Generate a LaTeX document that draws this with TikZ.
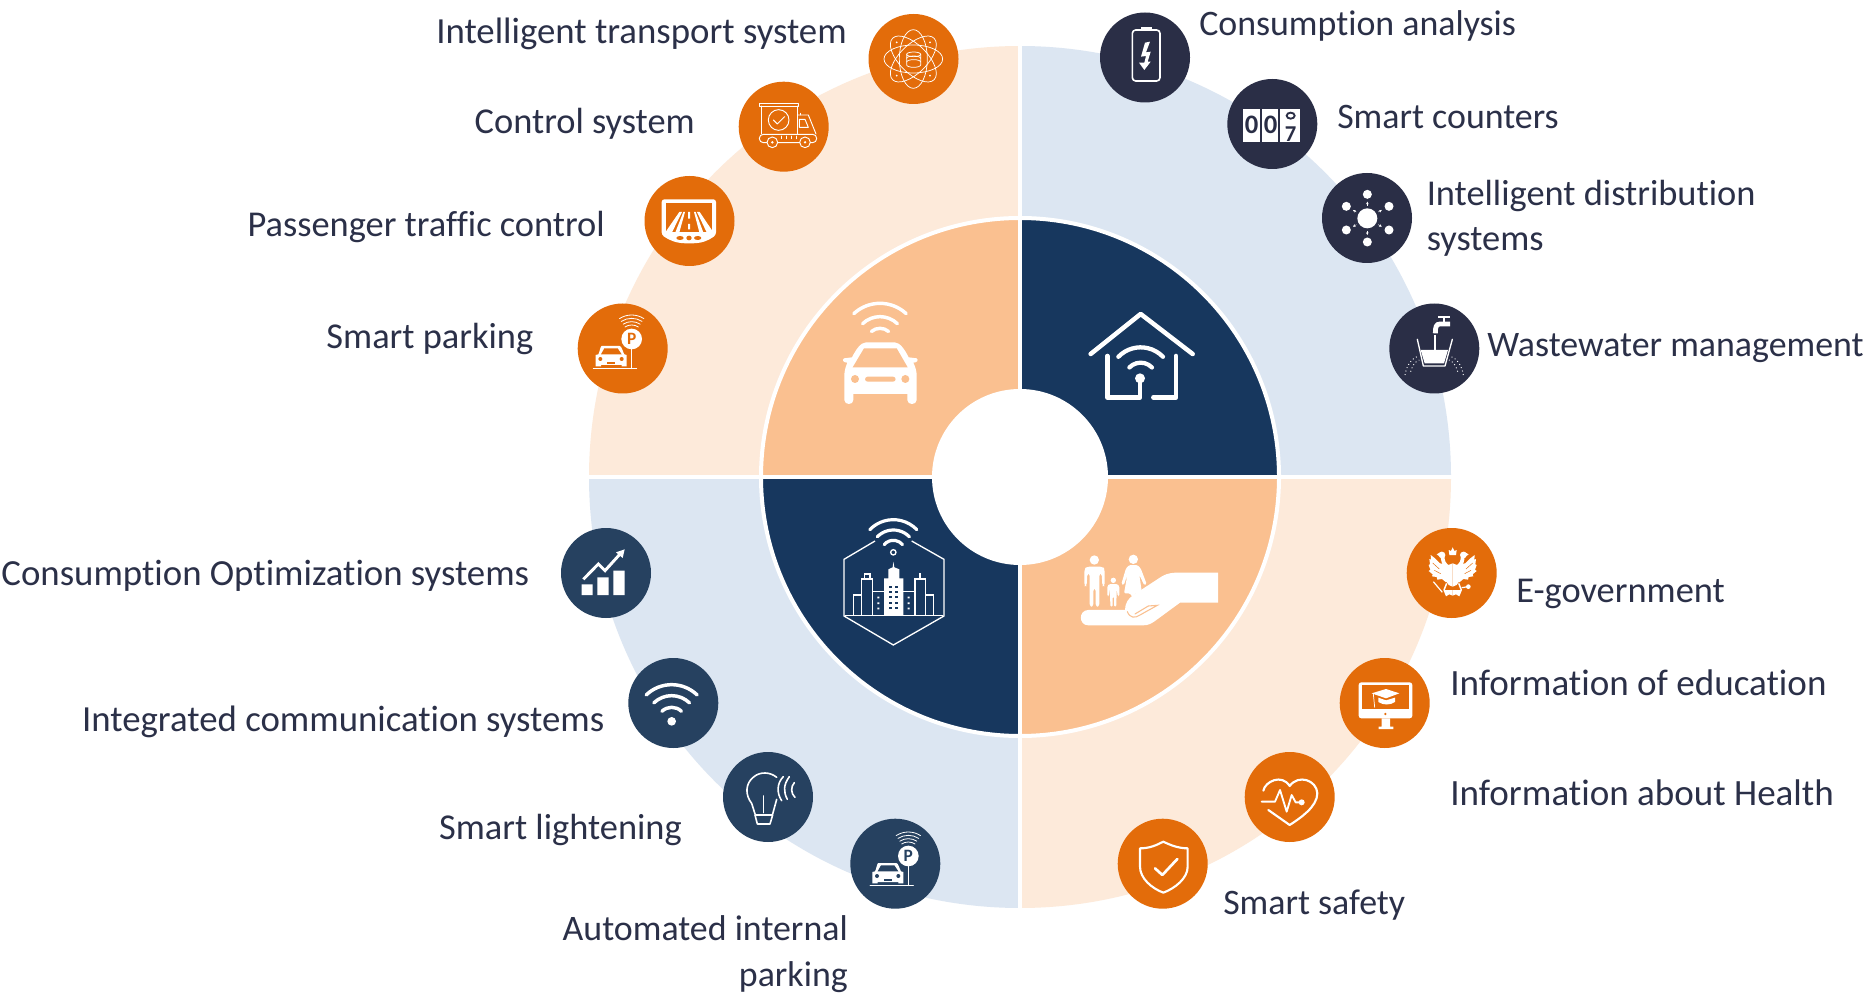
\documentclass[tikz,border=0pt]{standalone}
\usepackage{fontspec}
\setmainfont[Ligatures=CommonOff]{Carlito}
\usetikzlibrary{arrows.meta}
\definecolor{txt}{HTML}{2B3048}
\definecolor{org}{HTML}{E36C0A}
\definecolor{dk}{HTML}{2A2E46}
\definecolor{blu}{HTML}{264160}
\definecolor{navy}{HTML}{17375E}
\definecolor{lpeach}{HTML}{FDEADA}
\definecolor{lblue}{HTML}{DCE6F2}
\definecolor{peach}{HTML}{FAC090}
\tikzset{
  lab/.style={font=\fontsize{27.3}{34}\selectfont,text=txt,inner sep=0pt},
  lableft/.style={lab,anchor=base east,align=right},
  labright/.style={lab,anchor=base west,align=left},
  labnarrow/.style={font=\fontsize{26.9}{34}\selectfont},
  labwide/.style={font=\fontsize{27.6}{34}\selectfont},
  disc/.style={circle,minimum size=67.5pt,inner sep=0pt,draw=none},
  orgdisc/.style={disc,fill=org},
  dkdisc/.style={disc,fill=dk},
  bludisc/.style={disc,fill=blu},
  hole/.style={circle,fill=white,minimum size=132pt,inner sep=0pt},
  il/.style={draw=white,line width=.8pt,line cap=round,line join=round},
  ithin/.style={draw=white,line width=.55pt,line cap=round,line join=round},
  zoomA/.style={shift={(560,0)},scale=.33333},
  zoomB/.style={shift={(1090,0)},scale=.33333},
  zoomC/.style={shift={(550,520)},scale=.33333},
  zoomD/.style={shift={(1100,520)},scale=.33333},
  zoomE/.style={shift={(800,180)},scale=.33333},
  zoomF/.style={shift={(800,480)},scale=.33333},
}
% wifi-like arc: centre, radius, half-angle, width
\newcommand{\wfarc}[5]{\draw[draw=white,line width=#5,line cap=round] (#1,#2) ++(270-#4:#3) arc (270-#4:270+#4:#3);}
% parking icon: origin at sign centre, zoom units
\newcommand{\parkicon}[1]{%
  \draw[il,line width=.7pt] (-115,88)--(15,88);
  \draw[il,line width=1.1pt] (0,30)--(0,88);
  \fill[white] (0,0) circle (31);
  \node[font=\bfseries\fontsize{13}{13}\selectfont,text=#1,inner sep=0pt] (pk#1) at (0,0) {P};
  \fill[white] (-90,21)--(-36,21) .. controls (-30,21) and (-26,40) .. (-22,46) -- (-15,48)--(-15,82)--(-30,82)--(-30,78)--(-92,78)--(-92,82)--(-108,82)--(-108,48)--(-100,46) .. controls (-96,40) and (-94,21) .. (-90,21) -- cycle;
  \fill[#1] (-92,46)--(-82,28)--(-42,28)--(-30,46)--cycle;
  \fill[#1] (-94,60) circle (6) (-30,60) circle (6);
  \fill[#1] (-74,68) rectangle (-50,74);
  \foreach \rr in {67,57,47,37} {\wfarc{0}{-5}{\rr}{33}{.6pt}}
}
% half of the eagle, left side, axis at x=0
\newcommand{\halfeagle}{%
  \fill[white] (-12,90) -- (-38,85) -- (-53,70) -- (-66,60) -- (-65,74) -- (-70,72) -- (-68,88) -- (-72,90) -- (-67,104) -- (-72,108) -- (-60,118) -- (-62,124) -- (-48,126) -- (-46,134) -- (-32,132) -- (-20,142) -- (-10,135) -- cycle;
  \draw[org,line width=.35pt] (-60,84) -- (-40,102) (-55,106) -- (-36,116);
  \fill[white] (0,85) -- (-18,92) -- (-22,135) -- (-12,150) -- (0,155) -- cycle;
  \draw[draw=white,line width=2.8pt] (-6,100) .. controls (-30,90) and (-30,75) .. (-30,62);
  \fill[white] (-32,60) circle (10);
  \fill[white] (-48,58) -- (-34,50) -- (-34,68) -- cycle;
  \fill[white] (0,165) -- (-28,165) -- (-20,184) -- (-10,178) -- (0,182) -- cycle;
  \draw[draw=white,line width=1.1pt] (-18,145) -- (-26,165);
}
\begin{document}
\begin{tikzpicture}[x=.75pt,y=-.75pt]
\useasboundingbox (0,0) rectangle (1873,994);
\fill[white] (0,0) rectangle (1873,994);
\coordinate (O) at (1020,477);
% outer ring
\fill[lpeach] (O) -- ++(-431,0) arc (180:270:431) -- cycle;
\fill[lblue] (O) -- ++(0,-431) arc (270:360:431) -- cycle;
\fill[lpeach] (O) -- ++(431,0) arc (0:90:431) -- cycle;
\fill[lblue] (O) -- ++(0,431) arc (90:180:431) -- cycle;
% inner ring
\fill[peach] (O) -- ++(-259,0) arc (180:270:259) -- cycle;
\fill[navy] (O) -- ++(0,-259) arc (270:360:259) -- cycle;
\fill[peach] (O) -- ++(259,0) arc (0:90:259) -- cycle;
\fill[navy] (O) -- ++(0,259) arc (90:180:259) -- cycle;
\draw[white,line width=3pt] (O) circle (259);
\draw[white,line width=3pt] (1020,40) -- (1020,914);
\draw[white,line width=3pt] (585,477) -- (1455,477);
\node[hole] (centre) at (O) {};
% discs
\node[orgdisc] (a1) at (913.5,59) {};
\node[orgdisc] (a2) at (783.7,126.7) {};
\node[orgdisc] (a3) at (689.5,221) {};
\node[orgdisc] (a4) at (622.7,348.5) {};
\node[dkdisc] (b1) at (1145,57.5) {};
\node[dkdisc] (b2) at (1272.3,124) {};
\node[dkdisc] (b3) at (1367,218) {};
\node[dkdisc] (b4) at (1434.3,348.5) {};
\node[bludisc] (c1) at (606,573) {};
\node[bludisc] (c2) at (673.3,703) {};
\node[bludisc] (c3) at (768,797) {};
\node[bludisc] (c4) at (895.3,863.7) {};
\node[orgdisc] (d1) at (1451.7,573) {};
\node[orgdisc] (d2) at (1384.7,703) {};
\node[orgdisc] (d3) at (1289.7,797) {};
\node[orgdisc] (d4) at (1162.7,863.7) {};
% labels
\node[lableft,labwide] (la1) at (847,43.7) {Intelligent transport system};
\node[lableft] (la2) at (695,133.7) {Control system};
\node[lableft] (la3) at (605,236.2) {Passenger traffic control};
\node[lableft] (la4) at (533.5,348.2) {Smart parking};
\node[labright,labnarrow] (lb1) at (1199,35.7) {Consumption analysis};
\node[labright,labnarrow] (lb2) at (1337,128.7) {Smart counters};
\node[labright] (lb3) at (1426.5,250.5) {Intelligent distribution\\systems};
\node[labright,labnarrow] (lb4) at (1487,357) {Wastewater management};
\node[lableft,labwide] (lc1) at (529.5,585.2) {Consumption Optimization systems};
\node[lableft,labwide] (lc2) at (604.5,731.2) {Integrated communication systems};
\node[lableft] (lc3) at (682,839.2) {Smart lightening};
\node[lableft,labnarrow] (lc4) at (848,986) {Automated internal\\parking};
\node[labright] (ld1) at (1516,602) {E-government};
\node[labright,font=\fontsize{27.8}{34}\selectfont] (ld2) at (1450,695.2) {Information of education};
\node[labright,font=\fontsize{27.8}{34}\selectfont] (ld3) at (1450,805.2) {Information about Health};
\node[labright,labnarrow] (ld4) at (1223,914.2) {Smart safety};

% --- icons, zoom A
\begin{scope}[zoomA]
  % atom
  \foreach \a in {0,45,90,135} {\draw[ithin,rotate around={\a:(1060,177)}] (1060,177) ellipse (88 and 42);}
  \draw[ithin] (1040,163) arc (180:360:21 and 7) -- (1082,195) arc (0:180:21 and 7) -- cycle;
  \draw[ithin] (1040,163) arc (180:0:21 and 7);
  \draw[ithin] (1040,175) arc (180:0:21 and -7) (1040,186) arc (180:0:21 and -7);
  \foreach \p in {(1010,127),(1110,127),(1010,227),(1110,227)} {\fill[white] \p circle (3);}
  % truck
  \draw[il,line width=.7pt] (598,310) rectangle (716,318);
  \draw[il,line width=.7pt] (603,318) -- (603,402) (712,318) -- (712,402);
  \draw[il,line width=.7pt] (656,360) circle (31);
  \draw[il,line width=.7pt] (640,360) -- (652,372) -- (674,350);
  \draw[il,line width=.7pt] (712,345) -- (745,345) -- (768,402);
  \draw[il,line width=.7pt] (722,340) -- (722,345);
  \draw[il,line width=.7pt] (718,358) -- (735,358) -- (745,382) -- (718,382) -- cycle;
  \draw[il,line width=.7pt,rounded corners=3pt] (598,403) rectangle (770,428);
  \foreach \x in {665,680,695,710} {\draw[il,line width=.6pt] (\x,408) -- (\x,416);}
  \foreach \x in {637,735} {\filldraw[fill=org,draw=white,line width=.7pt] (\x,427) circle (16); \fill[white] (\x,427) circle (4);}
  % road screen
  \fill[white,rounded corners=2pt] (305,598) -- (468,598) -- (468,705) .. controls (445,722) and (425,730) .. (388,730) .. controls (350,730) and (330,722) .. (305,705) -- cycle;
  \fill[org] (318,610) -- (456,610) -- (456,695) -- (318,695) -- cycle;
  \fill[white] (358,636) -- (366,636) -- (336,697) -- (316,697) -- cycle;
  \fill[white] (370,636) -- (375,636) -- (358,697) -- (346,697) -- cycle;
  \fill[white] (402,636) -- (407,636) -- (430,697) -- (418,697) -- cycle;
  \fill[white] (411,636) -- (419,636) -- (460,697) -- (440,697) -- cycle;
  \fill[white] (384,636) rectangle (390,656) (384,672) rectangle (390,688);
  \fill[org] (360,714) ellipse (11 and 6) (387,714) ellipse (8 and 7) (413,714) ellipse (11 and 6);
  \begin{scope}[shift={(215,1017)}] \parkicon{org} \end{scope}
\end{scope}
% --- icons, zoom B
\begin{scope}[shift={(1110,20)},scale=.33333]
  % battery
  \draw[il,line width=1.2pt,rounded corners=2.5pt] (67,30) rectangle (150,183);
  \fill[white] (92,20) rectangle (125,30);
  \fill[white] (120,65) -- (105,68) -- (93,110) -- (108,108) -- (103,128) -- (87,128) -- (103,150) -- (122,125) -- (113,125) -- (122,95) -- (108,97) -- cycle;
\end{scope}
\begin{scope}[zoomB]
  % counter
  \fill[white] (458,327) rectangle (630,425);
  \draw[dk,line width=1.4pt] (512,327) -- (512,425) (568,327) -- (568,425);
  \node[font=\bfseries\fontsize{20}{20}\selectfont,text=dk,inner sep=0pt] (dg1) at (485,376) {0};
  \node[font=\bfseries\fontsize{20}{20}\selectfont,text=dk,inner sep=0pt] (dg2) at (542,376) {0};
  \node[font=\bfseries\fontsize{17}{17}\selectfont,text=dk,inner sep=0pt] (dg3) at (602,402) {7};
  \draw[dk,line width=1.4pt] (602,347) ellipse (12 and 9);
  % distribution
  \fill[white] (832,655) circle (30);
  \foreach \p in {(832,583),(897,619),(897,690),(832,726),(769,690),(769,619)} {\fill[white] \p circle (13.5);}
  \foreach \a in {30,90,150,210,270,330} {
    \draw[draw=white,line width=.35pt,-{Stealth[length=2pt,width=2pt]}] (832,655) ++(\a:38) -- ++(\a:12);
  }
  % water
  \draw[il,line width=1pt] (982,1018) -- (1000,1098) -- (1065,1098) -- (1087,1018);
  \fill[white] (992,1050) -- (1074,1050) -- (1062,1090) -- (1004,1090) -- cycle;
  \fill[white] (1045,947) rectangle (1080,953);
  \fill[white] (1058,953) rectangle (1066,965);
  \draw[draw=white,line width=3.6pt] (1080,972) -- (1050,972) .. controls (1038,972) and (1036,982) .. (1036,1000);
  \draw[draw=white,line width=1.5pt] (1035,1005) -- (1035,1050);
  \draw[draw=white,line width=.7pt,dotted] (945,1125) .. controls (950,1095) and (965,1075) .. (985,1068);
  \draw[draw=white,line width=.7pt,dotted] (962,1115) .. controls (968,1095) and (975,1085) .. (988,1080);
  \draw[draw=white,line width=.7pt,dotted] (1120,1125) .. controls (1115,1095) and (1100,1075) .. (1080,1068);
  \draw[draw=white,line width=.7pt,dotted] (1103,1115) .. controls (1097,1095) and (1090,1085) .. (1077,1080);
\end{scope}
% --- icons, zoom C
\begin{scope}[zoomC]
  % chart
  \fill[white] (95,193) rectangle (128,225) (142,172) rectangle (176,225) (190,152) rectangle (224,225);
  \draw[draw=white,line width=2.2pt,line join=miter] (100,178) -- (145,132) -- (165,152) -- (212,100);
  \fill[white] (224,88) -- (198,97) -- (218,114) -- cycle;
  % wifi
  \fill[white] (365,604) circle (13);
  \wfarc{365}{604}{110}{44}{2.6pt}
  \wfarc{365}{604}{77}{44}{2.6pt}
  \wfarc{365}{604}{42}{44}{2.6pt}
  % bulb
  \draw[il,line width=1.2pt] (668,882) -- (680,838) (615,882) -- (605,850) .. controls (585,825) and (585,790) .. (612,770) .. controls (630,755) and (660,755) .. (680,772);
  \draw[il,line width=1.2pt] (615,885) -- (668,885) -- (660,912) -- (622,912) -- cycle;
  \draw[il,line width=1.2pt] (640,828) -- (640,878);
  \draw[il,line width=1.2pt] (700,770) .. controls (680,790) and (680,820) .. (695,842);
  \draw[il,line width=1.2pt] (718,770) .. controls (700,795) and (700,815) .. (712,838);
  \draw[il,line width=1.2pt] (733,788) .. controls (722,800) and (722,820) .. (735,832);
  \begin{scope}[shift={(1075,1008)}] \parkicon{blu} \end{scope}
\end{scope}
% --- eagle
\begin{scope}[shift={(1415,535)},scale=.33333]
  \begin{scope}[shift={(113,0)}] \halfeagle \end{scope}
  \begin{scope}[shift={(113,0)},xscale=-1] \halfeagle \end{scope}
  \fill[white] (103,60) -- (101,45) -- (108,48) -- (113,37) -- (118,48) -- (125,45) -- (123,60) -- cycle;
  \draw[draw=white,line width=.9pt] (55,140) -- (82,172);
  \fill[white] (160,155) circle (7);
  \draw[draw=white,line width=.9pt] (140,158) -- (160,155);
\end{scope}
% --- icons, zoom D
\begin{scope}[zoomD]
  % education
  \fill[white,rounded corners=2pt] (776,487) rectangle (937,595);
  \fill[org] (785,496) rectangle (928,566);
  \fill[org] (856,582) circle (4);
  \fill[white] (845,595) rectangle (870,620) (836,620) rectangle (880,627);
  \fill[white] (815,520) -- (858,507) -- (898,520) -- (858,535) -- cycle;
  \fill[white] (835,533) -- (858,541) -- (885,533) -- (885,546) .. controls (870,556) and (850,556) .. (835,546) -- cycle;
  \draw[ithin] (820,522) -- (824,562);
  % heart
  \draw[il,line width=1.6pt] (490,812) .. controls (495,785) and (545,760) .. (569,798) .. controls (595,762) and (650,780) .. (652,820) .. controls (652,860) and (600,895) .. (569,915) -- (505,870);
  \draw[il,line width=1.4pt] (485,845) -- (525,845) -- (540,810) -- (560,875) -- (575,825) -- (587,847) -- (605,847);
  \fill[white] (605,847) circle (9);
  % shield
  \draw[il,line width=1.6pt] (120,985) .. controls (150,985) and (170,975) .. (190,965) .. controls (210,975) and (235,985) .. (263,985) -- (263,1040) .. controls (263,1075) and (225,1105) .. (190,1118) .. controls (155,1105) and (120,1075) .. (120,1040) -- cycle;
  \draw[il,line width=2pt] (165,1045) -- (187,1065) -- (232,1017);
\end{scope}
% --- central icons
\begin{scope}[zoomE]
  % car
  \wfarc{240}{485}{115}{43}{2.6pt}
  \wfarc{240}{485}{75}{44}{2.6pt}
  \wfarc{240}{485}{40}{40}{2.6pt}
  \fill[white] (198,487) -- (284,487) .. controls (300,487) and (315,510) .. (326,532) -- (350,535) .. controls (356,540) and (352,548) .. (340,548) .. controls (348,565) and (350,575) .. (350,590) -- (350,660) .. controls (350,676) and (322,676) .. (322,660) -- (322,642) -- (160,642) -- (160,660) .. controls (160,676) and (133,676) .. (133,660) -- (133,590) .. controls (133,575) and (135,565) .. (142,548) .. controls (130,548) and (125,540) .. (132,535) -- (156,532) .. controls (167,510) and (182,487) .. (198,487) -- cycle;
  \fill[peach] (158,562) -- (192,505) -- (290,505) -- (323,562) -- cycle;
  \fill[peach] (165,597) circle (12) (316,597) circle (12);
  \fill[peach,rounded corners=2pt] (195,590) rectangle (287,605);
  % house
  \draw[draw=white,line width=3.4pt,line cap=round,line join=round] (872,522) -- (1022,402) -- (1178,522);
  \draw[draw=white,line width=3.4pt,line cap=round,line join=round] (922,528) -- (922,652) -- (1020,652) -- (1020,595);
  \draw[draw=white,line width=3.4pt,line cap=round,line join=round] (1128,528) -- (1128,652) -- (1060,652);
  \fill[white] (1020,595) circle (15);
  \wfarc{1022}{595}{93}{46}{3.2pt}
  \wfarc{1022}{595}{47}{46}{3.2pt}
\end{scope}
\begin{scope}[zoomF]
  % city
  \draw[draw=white,line width=1pt,line join=miter] (335,183) -- (432,238) -- (432,408) -- (280,495) -- (132,408) -- (132,238) -- (225,183);
  \draw[draw=white,line width=1pt] (135,407) -- (430,407);
  \wfarc{280}{217}{98}{46}{2.4pt}
  \wfarc{280}{217}{67}{46}{2.4pt}
  \wfarc{280}{217}{36}{50}{2.4pt}
  \draw[draw=white,line width=1pt] (280,217) circle (8);
  \fill[white] (252,405) -- (252,295) -- (265,295) -- (265,268) -- (278,262) -- (280,245) -- (283,262) -- (298,268) -- (298,295) -- (310,295) -- (310,405) -- cycle;
  \foreach \yy in {320,336,352,368,383} {\foreach \xx in {272,290} {\fill[navy] (\xx-5,\yy-3) rectangle (\xx+5,\yy+3);}}
  \draw[draw=white,line width=.8pt] (185,405) -- (185,297) -- (217,297) -- (217,405);
  \draw[draw=white,line width=.8pt] (193,297) -- (193,282) -- (210,282) -- (210,297);
  \draw[draw=white,line width=.8pt] (345,405) -- (345,297) -- (377,297) -- (377,405);
  \draw[draw=white,line width=.8pt] (360,297) -- (360,278);
  \draw[draw=white,line width=.8pt] (185,345) -- (160,345) -- (160,405);
  \draw[draw=white,line width=.8pt] (377,345) -- (400,345) -- (400,405);
  \draw[draw=white,line width=.8pt] (217,335) -- (252,335) (310,335) -- (345,335);
  \foreach \yy in {350,367,383} {\fill[white] (232,\yy) rectangle (238,\yy+5) (323,\yy) rectangle (329,\yy+5);}
  % family and hand
  \fill[white] (865,390) .. controls (835,390) and (835,436) .. (865,436) -- (1030,436) .. controls (1045,436) and (1055,430) .. (1065,423) -- (1140,368) -- (1254,368) -- (1254,278) -- (1130,278) .. controls (1105,278) and (1090,285) .. (1075,296) -- (1000,345) .. controls (985,355) and (975,370) .. (975,390) -- cycle;
  \draw[peach,line width=.8pt,line cap=round] (982,395) .. controls (990,415) and (1005,415) .. (1020,405) -- (1072,376) -- (1045,378) -- (1005,402);
  \fill[white] (883,240) circle (14) (940,301) circle (8) (1000,238) circle (14);
  \fill[white,rounded corners=2pt] (860,260) -- (908,260) -- (914,268) -- (914,318) -- (907,318) -- (905,280) -- (898,280) -- (898,380) -- (887,380) -- (887,325) -- (880,325) -- (880,380) -- (869,380) -- (869,280) -- (862,280) -- (860,318) -- (853,318) -- (853,268) -- cycle;
  \fill[white,rounded corners=1pt] (928,312) -- (952,312) -- (958,318) -- (958,348) -- (953,348) -- (950,325) -- (949,380) -- (942,380) -- (942,350) -- (938,350) -- (938,380) -- (931,380) -- (930,325) -- (927,348) -- (922,348) -- (922,318) -- cycle;
  \fill[white,rounded corners=1pt] (988,255) -- (1012,255) -- (1022,265) -- (1040,312) -- (1033,316) -- (1018,285) -- (1026,340) -- (1004,340) -- (1004,350) -- (996,350) -- (990,340) -- (972,340) -- (982,285) -- (971,316) -- (964,312) -- (978,265) -- cycle;
\end{scope}
\end{tikzpicture}
\end{document}
